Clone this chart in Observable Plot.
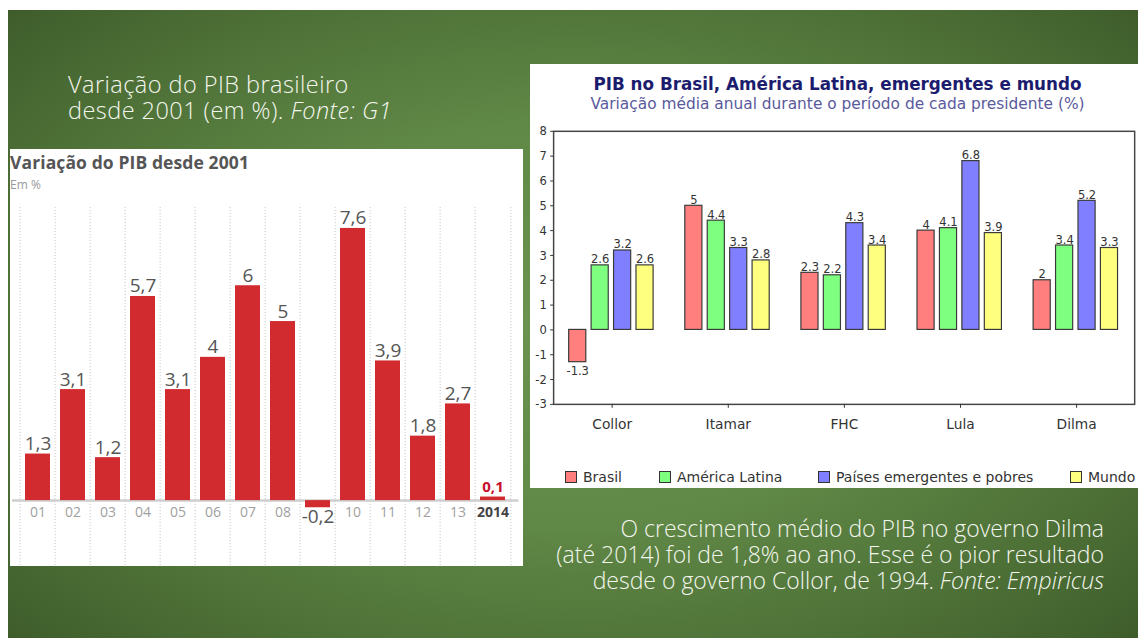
<!DOCTYPE html>
<html>
<head>
<meta charset="utf-8">
<script src="https://cdn.jsdelivr.net/npm/d3@7"></script>
<script src="https://cdn.jsdelivr.net/npm/@observablehq/plot@0.6"></script>
<style>
html, body { margin:0; padding:0; width:1138px; height:638px; overflow:hidden; background:#ffffff; }
#slide { position:absolute; left:8px; top:10px; width:1130px; height:628px;
  background:
    radial-gradient(ellipse 75% 80% at 50% 50%, rgba(108,148,80,1) 0%, rgba(96,136,70,1) 40%, rgba(74,108,52,1) 75%, rgba(55,84,38,1) 100%); }
.caption { position:absolute; color:#f3f6ee; font-family:"Open Sans", sans-serif; font-weight:300; white-space:nowrap; }
#cap1 { left:68px; top:72px; font-size:23.5px; line-height:25.5px; letter-spacing:0.45px; }
#cap1 div { height:25.5px; }
#cap2 { right:34px; top:516px; text-align:right; font-size:23px; line-height:25.8px; }
#cap2 div { height:25.8px; }
#leftPanel { position:absolute; left:10px; top:149px; width:513px; height:417px; background:#fff; overflow:hidden; }
#leftTitle { position:absolute; left:0px; top:3px; font-family:"Open Sans", sans-serif; font-weight:700; font-size:17.5px; line-height:20px; color:#555; letter-spacing:0.1px; white-space:nowrap; }
#leftSub { position:absolute; left:0px; top:29px; font-family:"Open Sans", sans-serif; font-size:12px; line-height:14px; color:#999; }
#leftChart { position:absolute; left:0px; top:51px; }
#rightPanel { position:absolute; left:530px; top:64px; width:615px; height:424px; background:#fff; overflow:hidden; }
#rightTitle { position:absolute; left:0; width:615px; top:10px; text-align:center; font-family:"DejaVu Sans", sans-serif; font-weight:700; font-size:16.8px; line-height:20px; color:#1c1c6e; white-space:nowrap; }
#rightSub { position:absolute; left:0; width:615px; top:31px; text-align:center; font-family:"DejaVu Sans", sans-serif; font-size:15.4px; line-height:18px; color:#5a5a9c; white-space:nowrap; }
#rightChart { position:absolute; left:0px; top:56px; }
.legItem { position:absolute; top:404px; font-family:"DejaVu Sans", sans-serif; font-size:14px; line-height:18px; color:#333; white-space:nowrap; }
.legSw { position:absolute; left:0; top:3px; width:10px; height:10px; border:1px solid #333; }
.legTx { position:absolute; left:18px; top:0; }
</style>
</head>
<body>
<div id="slide"></div>
<div class="caption" id="cap1"><div>Variação do PIB brasileiro</div><div>desde 2001 (em %). <i>Fonte: G1</i></div></div>

<div id="leftPanel">
  <div id="leftTitle">Variação do PIB desde 2001</div>
  <div id="leftSub">Em %</div>
  <div id="leftChart"></div>
</div>

<div id="rightPanel">
  <div id="rightTitle">PIB no Brasil, América Latina, emergentes e mundo</div>
  <div id="rightSub">Variação média anual durante o período de cada presidente (%)</div>
  <div id="rightChart"></div>
  <div id="legend"></div>
</div>

<div class="caption" id="cap2"><div>O crescimento médio do PIB no governo Dilma</div><div>(até 2014) foi de 1,8% ao ano. Esse é o pior resultado</div><div>desde o governo Collor, de 1994. <i>Fonte: Empiricus</i></div></div>

<script>
// ---------- Left chart data ----------
const years = ["01","02","03","04","05","06","07","08","09","10","11","12","13","2014"];
const growth = [1.3, 3.1, 1.2, 5.7, 3.1, 4, 6, 5, -0.2, 7.6, 3.9, 1.8, 2.7, 0.1];
const highlightYear = "2014";

// ---------- Right chart data ----------
const presidents = ["Collor", "Itamar", "FHC", "Lula", "Dilma"];
const seriesNames = ["Brasil", "América Latina", "Países emergentes e pobres", "Mundo"];
const brasil = [-1.3, 5, 2.3, 4, 2];
const americaLatina = [2.6, 4.4, 2.2, 4.1, 3.4];
const emergentes = [3.2, 3.3, 4.3, 6.8, 5.2];
const mundo = [2.6, 2.8, 3.4, 3.9, 3.3];
const seriesColors = ["#ff7f7f", "#7fff7f", "#7f7fff", "#ffff7f"];
const yTicks = [-3, -2, -1, 0, 1, 2, 3, 4, 5, 6, 7, 8];

// ---------- Left chart ----------
const fmtComma = v => String(v).replace(".", ",");
const leftData = years.map((year, i) => ({year, value: growth[i], label: fmtComma(growth[i])}));
const LW = 513, LML = 5, LMR = 7.5;
const lStep = (LW - LML - LMR) / years.length;

const left = Plot.plot({
  width: LW, height: 366,
  marginLeft: LML, marginRight: LMR, marginTop: 0, marginBottom: 0,
  x: {domain: years, padding: 0, axis: null},
  y: {domain: [-1.84, 8.38], axis: null},
  style: {background: "transparent", fontFamily: "'Open Sans', sans-serif", overflow: "visible"},
  marks: [
    Plot.ruleX(years, {x: d => d, dx: -lStep / 2, insetTop: 7, stroke: "#c8c8c8", strokeDasharray: "1.2,1.8", strokeWidth: 1}),
    Plot.ruleX([highlightYear], {x: d => d, dx: lStep / 2, insetTop: 7, stroke: "#c8c8c8", strokeDasharray: "1.2,1.8", strokeWidth: 1}),
    Plot.ruleY([0], {stroke: "#cfcfcf", strokeWidth: 2.5, insetLeft: -3, insetRight: -3}),
    Plot.barY(leftData, {x: "year", y: "value", fill: "#d22b2f", insetLeft: 5, insetRight: 5}),
    Plot.text(leftData, {filter: d => d.value >= 0 && d.year !== highlightYear, x: "year", y: "value", text: "label",
      lineAnchor: "bottom", dy: -4, fontSize: 19, fill: "#555"}),
    Plot.text(leftData, {filter: d => d.value < 0, x: "year", y: "value", text: "label",
      lineAnchor: "top", dy: 2, fontSize: 19, fill: "#555"}),
    Plot.text(leftData, {filter: d => d.year === highlightYear, x: "year", y: "value", text: "label",
      lineAnchor: "bottom", dy: -5, fontSize: 15, fontWeight: "bold", fill: "#c8102e"}),
    Plot.text(leftData, {filter: d => d.value >= 0 && d.year !== highlightYear, x: "year", y: () => 0, text: "year",
      lineAnchor: "top", dy: 6, fontSize: 14, fill: "#a0a0a0"}),
    Plot.text(leftData, {filter: d => d.year === highlightYear, x: "year", y: () => 0, text: "year",
      lineAnchor: "top", dy: 6, fontSize: 14, fontWeight: "bold", fill: "#444"})
  ]
});
document.getElementById("leftChart").appendChild(left);

// ---------- Right chart ----------
const seriesValues = [brasil, americaLatina, emergentes, mundo];
const RW = 625, RML = 23.5, RMR = 11;
const rBand = (RW - RML - RMR) / presidents.length;
const barW = 17.5, barStep = 22.8;
const inset = (rBand - barW) / 2;
const labelFont = "'DejaVu Sans Condensed', 'Liberation Sans Narrow', 'DejaVu Sans', sans-serif";

const rightMarks = [Plot.frame({stroke: "#444", strokeWidth: 1.5})];
seriesValues.forEach((vals, s) => {
  const rows = presidents.map((p, i) => ({president: p, value: vals[i]}));
  const off = (s - 1.5) * barStep - 0.8;
  rightMarks.push(
    Plot.barY(rows, {x: "president", y: "value", dx: off, insetLeft: inset, insetRight: inset,
      fill: seriesColors[s], stroke: "#3a3a3a", strokeWidth: 1.2}),
    Plot.text(rows, {filter: d => d.value >= 0, x: "president", y: "value", dx: off, text: d => String(d.value),
      lineAnchor: "bottom", dy: -2, fontSize: 13, fill: "#333", fontFamily: labelFont}),
    Plot.text(rows, {filter: d => d.value < 0, x: "president", y: "value", dx: off, text: d => String(d.value),
      lineAnchor: "top", dy: 4, fontSize: 13, fill: "#333", fontFamily: labelFont})
  );
});
rightMarks.push(
  Plot.axisY({ticks: yTicks, tickSize: 3, tickPadding: 4, fontSize: 13, color: "#333", label: null,
    tickFormat: d => String(d), fontFamily: labelFont}),
  Plot.axisX({tickSize: 4, tickPadding: 11, fontSize: 14, color: "#333", label: null, fontFamily: "'DejaVu Sans', sans-serif"})
);

const right = Plot.plot({
  width: RW, height: 320,
  marginLeft: RML, marginRight: RMR, marginTop: 11, marginBottom: 31.5,
  x: {domain: presidents, padding: 0},
  y: {domain: [-3, 8]},
  style: {background: "transparent", fontFamily: "'DejaVu Sans', sans-serif", overflow: "visible"},
  marks: rightMarks
});
document.getElementById("rightChart").appendChild(right);

// ---------- Legend ----------
const legendLeft = [35, 129, 288, 540];
const legend = document.getElementById("legend");
seriesNames.forEach((name, i) => {
  const item = document.createElement("div");
  item.className = "legItem";
  item.style.left = legendLeft[i] + "px";
  const sw = document.createElement("span");
  sw.className = "legSw";
  sw.style.background = seriesColors[i];
  const tx = document.createElement("span");
  tx.className = "legTx";
  tx.textContent = name;
  item.appendChild(sw); item.appendChild(tx);
  legend.appendChild(item);
});
</script>
</body>
</html>
